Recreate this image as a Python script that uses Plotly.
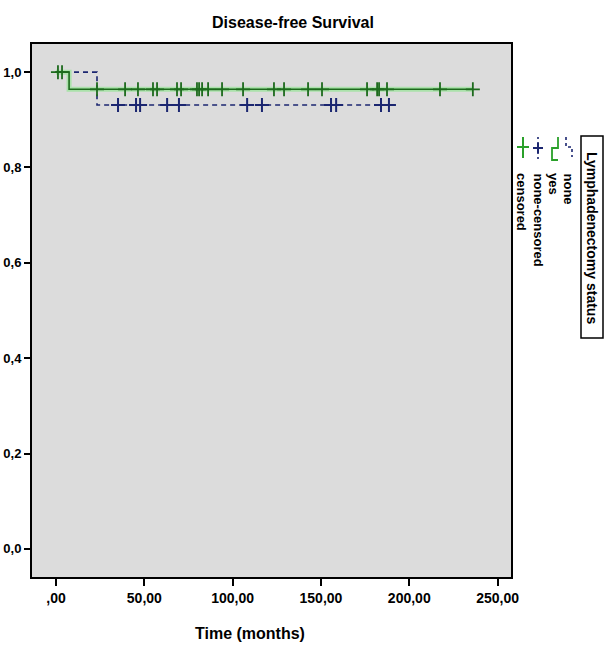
import plotly.graph_objects as go

# ---------------- data ----------------
yes_event_times = [7.4]
yes_surv_levels = [0.964]
yes_censor_times = [1.1, 3.4, 23.2, 39.1, 46.4, 54.9, 57.2, 68.5, 70.8, 79.8, 81.0,
                    82.7, 86.1, 94.0, 105.9, 123.4, 129.1, 142.7, 150.6, 176.1,
                    181.8, 182.9, 187.4, 217.4, 236.0]

none_event_times = [23.2]
none_surv_levels = [0.931]
none_censor_times = [35.1, 45.3, 47.6, 62.9, 69.6, 108.2, 116.6, 155.7, 158.6,
                     184.0, 188.5]

x_tick_vals = [0, 50, 100, 150, 200, 250]
x_tick_text = [",00", "50,00", "100,00", "150,00", "200,00", "250,00"]
y_tick_vals = [0.0, 0.2, 0.4, 0.6, 0.8, 1.0]
y_tick_text = ["0,0", "0,2", "0,4", "0,6", "0,8", "1,0"]

legend_title = "Lymphadenectomy status"
legend_labels = ["none", "yes", "none-censored", "censored"]


def km_step(event_times, levels, censor_times):
    xs, ys = [0.0], [1.0]
    for t, s in zip(event_times, levels):
        xs.append(t)
        ys.append(s)
    xs.append(max(censor_times))
    ys.append(ys[-1])
    return xs, ys


def level_at(t, event_times, levels):
    s = 1.0
    for et, lv in zip(event_times, levels):
        if t >= et:
            s = lv
    return s


GREEN_DARK = "#1d6a1d"
GREEN_HALO = "rgba(150,228,150,0.7)"
GREEN_LEG = "#2aa02a"
BLUE = "#1b2670"

fig = go.Figure()

# none (blue dashed)
nx, ny = km_step(none_event_times, none_surv_levels, none_censor_times)
fig.add_trace(go.Scatter(x=nx, y=ny, mode="lines", line_shape="hv",
                         line=dict(color=BLUE, width=1.6, dash="5px,4px"),
                         showlegend=False, hoverinfo="skip"))
fig.add_trace(go.Scatter(x=none_censor_times,
                         y=[level_at(t, none_event_times, none_surv_levels) for t in none_censor_times],
                         mode="markers",
                         marker=dict(symbol="cross-thin", size=10,
                                     line=dict(color=BLUE, width=2)),
                         showlegend=False, hoverinfo="skip"))

# yes (green solid with halo)
gx, gy = km_step(yes_event_times, yes_surv_levels, yes_censor_times)
fig.add_trace(go.Scatter(x=gx, y=gy, mode="lines", line_shape="hv",
                         line=dict(color=GREEN_HALO, width=5),
                         showlegend=False, hoverinfo="skip"))
fig.add_trace(go.Scatter(x=gx, y=gy, mode="lines", line_shape="hv",
                         line=dict(color=GREEN_DARK, width=1.6),
                         showlegend=False, hoverinfo="skip"))
fig.add_trace(go.Scatter(x=yes_censor_times,
                         y=[level_at(t, yes_event_times, yes_surv_levels) for t in yes_censor_times],
                         mode="markers",
                         marker=dict(symbol="cross-thin", size=10,
                                     line=dict(color=GREEN_DARK, width=1.8)),
                         showlegend=False, hoverinfo="skip"))

# ---------------- layout ----------------
W, H = 614, 645
L, R, T, B = 32, 511, 44, 577
PW, PH = R - L, B - T


def px(xp):
    return (xp - L) / PW


def py(yp):
    return (B - yp) / PH


FONT = "Liberation Sans Narrow, Arial Narrow, Liberation Sans, Arial, sans-serif"

fig.update_layout(
    width=W, height=H,
    margin=dict(l=L, r=W - R, t=T, b=H - B, autoexpand=False),
    paper_bgcolor="white",
    plot_bgcolor="#dcdcdc",
    font=dict(family=FONT, color="black"),
    title=dict(text="<b>Disease-free Survival</b>", x=293 / W, xanchor="center",
               y=1 - 22 / H, yanchor="middle",
               font=dict(family=FONT, size=16, color="black")),
    showlegend=False,
)

fig.update_xaxes(range=[-13.6, 257.6], tickvals=x_tick_vals, ticktext=x_tick_text,
                 ticks="outside", ticklen=7, tickwidth=2, tickcolor="black",
                 showline=True, linecolor="black", linewidth=2, mirror=True,
                 showgrid=False, zeroline=False, automargin=False,
                 tickfont=dict(family=FONT, size=14, color="black", weight="bold"))
fig.update_yaxes(range=[-0.059, 1.059], tickvals=y_tick_vals, ticktext=y_tick_text,
                 ticks="outside", ticklen=6, tickwidth=2, tickcolor="black",
                 showline=True, linecolor="black", linewidth=2, mirror=True,
                 showgrid=False, zeroline=False, automargin=False,
                 tickfont=dict(family=FONT, size=13, color="black", weight="bold"))

annotations = [
    dict(text="<b>Time (months)</b>", x=px(250), y=py(633), xref="paper", yref="paper",
         xanchor="center", yanchor="middle", showarrow=False,
         font=dict(family=FONT, size=16, color="black")),
    dict(text="<b>" + legend_title + "</b>", x=px(592), y=py(238), xref="paper", yref="paper",
         xanchor="center", yanchor="middle", textangle=90, showarrow=False,
         font=dict(family=FONT, size=14, color="black")),
]
label_x = [568, 553, 538, 521]
for lab, lx in zip(legend_labels, label_x):
    annotations.append(dict(text="<b>" + lab + "</b>", x=px(lx), y=py(171), xref="paper",
                            yref="paper", xanchor="center", yanchor="top", textangle=90,
                            showarrow=False,
                            font=dict(family=FONT, size=13, color="black")))
fig.update_layout(annotations=annotations)

shapes = []
# legend title box
shapes.append(dict(type="rect", xref="paper", yref="paper",
                   x0=px(581), x1=px(603), y0=py(338), y1=py(136),
                   line=dict(color="black", width=1.5), fillcolor="white"))
# none symbol (blue dashed rotated step)
shapes.append(dict(type="path", xref="paper", yref="paper",
                   path=f"M {px(566)} {py(137)} L {px(566)} {py(147)} L {px(572)} {py(147)} L {px(572)} {py(157)}",
                   line=dict(color=BLUE, width=1.6, dash="3px,3px")))
# yes symbol (green rotated step)
shapes.append(dict(type="path", xref="paper", yref="paper",
                   path=f"M {px(558)} {py(137)} L {px(558)} {py(148)} L {px(552)} {py(148)} L {px(552)} {py(160)} L {px(558)} {py(160)}",
                   line=dict(color=GREEN_LEG, width=1.8)))
# none-censored symbol (blue dotted with cross)
shapes.append(dict(type="line", xref="paper", yref="paper",
                   x0=px(538), x1=px(538), y0=py(137), y1=py(160),
                   line=dict(color=BLUE, width=1.6, dash="2px,3px")))
shapes.append(dict(type="line", xref="paper", yref="paper",
                   x0=px(533), x1=px(543), y0=py(148), y1=py(148),
                   line=dict(color=BLUE, width=2)))
shapes.append(dict(type="line", xref="paper", yref="paper",
                   x0=px(538), x1=px(538), y0=py(143), y1=py(153),
                   line=dict(color=BLUE, width=2)))
# censored symbol (green cross)
shapes.append(dict(type="line", xref="paper", yref="paper",
                   x0=px(523), x1=px(523), y0=py(137), y1=py(158),
                   line=dict(color=GREEN_LEG, width=2)))
shapes.append(dict(type="line", xref="paper", yref="paper",
                   x0=px(517), x1=px(529), y0=py(147), y1=py(147),
                   line=dict(color=GREEN_LEG, width=2)))
fig.update_layout(shapes=shapes)

fig.write_html("out.html")
